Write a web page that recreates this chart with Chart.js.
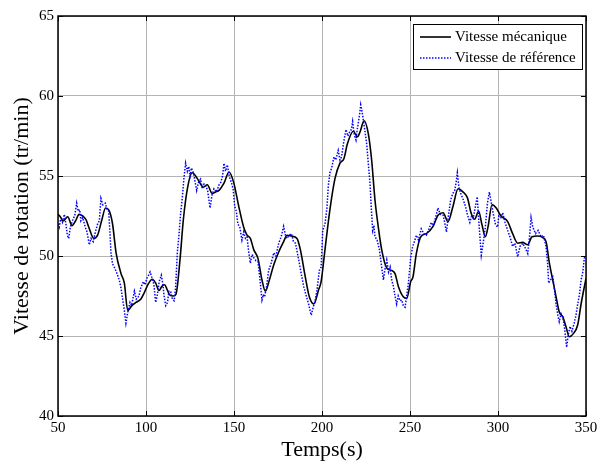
<!DOCTYPE html>
<html lang="fr">
<head>
    <meta charset="UTF-8">
    <title>Vitesse de rotation</title>
    <script src="https://cdn.jsdelivr.net/npm/chart.js"></script>
    <style>
        html, body {
            margin: 0;
            background: #fff;
        }

        .chart-box {
            width: 609px;
            height: 463px;
            position: relative;
        }
    </style>
</head>
<body>
    <div class="chart-box">
        <canvas id="speedChart"></canvas>
    </div>

    <script>
        // axis ticks
        const timeTicks = [50, 100, 150, 200, 250, 300, 350];
        const speedTicks = [40, 45, 50, 55, 60, 65];

        // Vitesse mécanique
        const timeMec = [50, 51, 53, 55.5, 58, 60, 62, 64, 66, 67.5, 70.3, 72.5, 75, 77, 79, 81, 83, 85.8, 87.7, 89.6,
            92, 94.3, 97, 99, 101, 103.6, 105.5, 107.4, 109, 110.6, 112, 113.6, 115.5, 117, 119.3, 121.2, 123.5, 126.3, 129.1, 131,
            132.6, 134.8, 137.7, 139.5, 141.5, 144.3, 147.2, 149.8, 152.7, 155.5, 157.4, 159.3, 161.2, 163.6, 165.9, 167.8, 170.1, 172.6, 175.4, 178.2,
            180.1, 182.6, 185.8, 187.7, 190.5, 192.8, 195.3, 198.1, 199.5, 201.7, 204.5, 207.4, 210.2, 212.5, 214.4, 217.8, 220.1, 221.6, 223.9, 226.3,
            228.2, 230.1, 232, 233.9, 236.8, 239.6, 241.5, 243.4, 246.2, 248.1, 250.4, 251.7, 253.6, 256.1, 259.3, 263.1, 265.9, 268.8, 271.6, 274.4,
            277.3, 280.1, 282.6, 284.8, 286.7, 289, 290.9, 292.8, 294.3, 296.6, 299, 301.7, 305.5, 308.3, 311.2, 314, 316.9, 319.3, 322.6, 325.4,
            327.3, 329.2, 331.1, 333, 334.8, 336.8, 338.6, 340.5, 342.8, 345.3, 347.2, 350];
        const speedMec = [52.6, 52.5, 52.2, 52.45, 51.9, 52.2, 52.6, 52.5, 52.25, 51.8, 51.1, 51.3, 52.3, 53.0, 52.85, 52.0, 50.2, 48.9, 48.3, 46.6,
            46.9, 47.1, 47.3, 47.7, 48.2, 48.55, 48.3, 47.85, 48.1, 48.2, 47.9, 47.55, 47.5, 47.6, 49.75, 52.25, 54.2, 55.2, 54.85, 54.5,
            54.3, 54.45, 53.9, 54.0, 54.1, 54.55, 55.25, 54.6, 53.1, 51.8, 51.3, 51.1, 50.4, 49.85, 48.5, 47.8, 48.5, 49.45, 50.25, 50.9,
            51.3, 51.25, 51.1, 50.4, 48.7, 47.45, 47.0, 47.9, 48.4, 50.4, 52.9, 54.85, 55.8, 56.1, 57.0, 57.8, 57.45, 57.75, 58.45, 57.65,
            56.0, 53.5, 51.8, 50.4, 49.25, 49.1, 48.9, 48.1, 47.45, 47.35, 48.4, 48.7, 50.15, 51.2, 51.4, 51.85, 52.55, 52.7, 52.15, 53.1,
            54.2, 54.0, 53.65, 52.65, 52.3, 52.8, 51.95, 51.2, 51.8, 53.2, 53.0, 52.5, 52.15, 51.4, 50.8, 50.85, 50.7, 51.2, 51.25, 51.15,
            50.9, 49.55, 48.5, 47.45, 46.5, 46.2, 45.6, 44.95, 45.15, 45.7, 47.0, 48.6];

        // Vitesse de référence
        const timeRef = [50, 50.7, 51.5, 52.5, 53.6, 54.5, 55.3, 56.1, 57, 58.5, 59.5, 60.6, 61.5, 62.3, 63, 64, 65.5, 66.5, 67.8, 68.8,
            70, 71, 72.5, 73.5, 74.4, 75.5, 76.9, 77.8, 78.8, 79.5, 80.1, 81, 82, 83.2, 84.8, 85.8, 86.8, 87.7, 88.6, 89.5,
            90.9, 91.8, 93.4, 94.5, 96, 97, 98.5, 99.5, 100.5, 102.3, 103.5, 104.5, 105.5, 106.5, 107.5, 108.7, 109.5, 110.3, 111.2, 112.2,
            113, 114, 115, 116, 116.8, 117.8, 118.8, 119.7, 120.6, 121.5, 122.5, 123.5, 124.3, 125, 125.8, 126.9, 127.8, 128.8, 129.8, 131,
            132, 133, 133.9, 135, 136.4, 137.5, 138.6, 140, 141.5, 142.5, 143.5, 144.3, 145.2, 146.2, 147.3, 148.5, 149.5, 150.4, 151.3, 152.2,
            153.3, 154.5, 155.5, 156.5, 157.4, 158.3, 159.3, 160.3, 161.2, 162.5, 163.6, 164.7, 165.9, 166.7, 167.4, 168.5, 169.7, 171, 172.6, 173.8,
            175.4, 176.8, 178.2, 179.2, 180.1, 181.3, 182.6, 183.8, 184.9, 186, 186.8, 188.2, 189.6, 190.8, 192.4, 193.2, 193.9, 195, 196.2, 197.3,
            198.5, 199.5, 200.4, 201.7, 202.8, 203.6, 204.5, 205.5, 206.8, 207.8, 209.2, 210.2, 211.1, 212.3, 213.6, 214.7, 215.9, 216.7, 217.4, 218.3,
            219.3, 220, 220.6, 221.3, 222, 222.8, 223.5, 224.4, 225.4, 226.3, 227.3, 228, 228.8, 229.5, 230.1, 231.3, 232.6, 233.8, 234.9, 235.8,
            236.8, 237.8, 238.7, 239.6, 240.6, 241.5, 242.4, 243.3, 244.3, 245.3, 246.2, 247.2, 248.1, 249.1, 250.4, 251.5, 252.5, 253.6, 254.8, 256.4,
            257.8, 259.3, 260.5, 262.1, 263.3, 264.5, 265.9, 267.2, 268.8, 269.7, 270.7, 271.8, 273.1, 274.3, 275.4, 276.2, 276.9, 277.8, 278.8, 280,
            281.5, 282.6, 284, 285, 285.9, 287, 288.2, 289.2, 290.5, 291.7, 292.8, 294, 295.1, 296.1, 297.2, 298.5, 299.7, 300.5, 301.6, 302.7,
            304, 305.5, 306.8, 308.3, 309.6, 311.2, 312.5, 314, 315.5, 316.9, 317.9, 318.8, 319.8, 321.3, 322.8, 324.4, 325.8, 327.3, 328.2, 328.8,
            329.8, 331.1, 332.2, 333, 334, 334.8, 335.8, 336.8, 337.8, 338.5, 339, 339.8, 340.9, 342, 343.3, 344.3, 345.3, 346.3, 347.2, 348.2,
            349, 350];
        const speedRef = [52.0, 51.8, 52.3, 52.1, 52.6, 52.0, 51.3, 51.1, 51.8, 52.3, 52.5, 53.3, 52.8, 52.9, 52.2, 52.4, 51.8, 51.5, 50.7, 51.1,
            50.9, 51.4, 52.0, 52.2, 53.6, 53.2, 53.3, 52.9, 52.8, 51.5, 50.2, 49.5, 49.3, 49.0, 48.5, 48.0, 47.25, 46.6, 45.8, 46.4,
            47.1, 46.9, 47.8, 47.3, 47.5, 48.0, 48.4, 48.2, 48.6, 49.0, 48.6, 48.2, 47.1, 47.6, 48.4, 48.8, 48.3, 47.5, 46.9, 47.1,
            47.8, 47.8, 47.3, 47.2, 48.0, 50.2, 51.4, 52.7, 53.6, 54.8, 55.8, 55.3, 55.6, 55.0, 55.5, 55.2, 54.7, 54.1, 54.6, 54.8,
            54.2, 54.5, 54.4, 54.1, 53.0, 53.8, 54.2, 54.0, 54.45, 54.6, 55.0, 55.8, 55.3, 55.7, 55.0, 54.6, 54.2, 53.1, 52.8, 52.0,
            51.8, 51.0, 51.5, 51.1, 51.2, 50.3, 49.55, 50.1, 49.9, 49.7, 49.65, 48.6, 47.25, 47.6, 47.45, 48.1, 49.1, 49.5, 50.2, 50.0,
            50.8, 51.2, 51.85, 51.3, 51.1, 51.3, 51.4, 50.9, 50.8, 50.2, 49.75, 48.9, 48.1, 47.6, 47.0, 46.6, 46.3, 46.8, 47.25, 48.0,
            49.1, 49.3, 51.6, 52.0, 53.0, 54.4, 55.2, 55.5, 56.2, 56.0, 56.6, 56.0, 56.2, 57.1, 57.9, 57.5, 57.8, 57.9, 58.4, 57.6,
            57.25, 57.9, 58.3, 58.8, 59.45, 59.0, 58.5, 57.8, 57.0, 55.8, 54.5, 53.0, 51.6, 51.9, 51.2, 51.0, 50.4, 49.4, 48.5, 49.2,
            49.75, 49.0, 49.3, 48.5, 48.1, 47.5, 47.0, 47.5, 47.2, 47.25, 46.9, 46.8, 47.5, 48.3, 49.9, 50.6, 50.9, 51.3, 51.0, 51.7,
            51.4, 51.3, 51.6, 52.1, 51.9, 52.4, 53.0, 52.6, 52.55, 52.1, 51.5, 52.5, 53.5, 53.9, 54.1, 54.6, 55.2, 54.3, 53.9, 53.6,
            53.1, 52.6, 52.1, 52.5, 52.35, 53.0, 53.7, 52.0, 50.05, 50.9, 51.8, 53.3, 54.0, 53.4, 52.7, 52.0, 51.8, 52.5, 52.4, 52.7,
            52.1, 51.6, 51.2, 50.6, 50.8, 49.95, 50.6, 50.8, 50.5, 50.15, 51.2, 52.4, 51.8, 51.4, 51.6, 51.2, 51.3, 50.6, 49.5, 48.3,
            48.5, 48.7, 47.8, 47.0, 46.3, 45.9, 46.4, 46.2, 45.5, 44.8, 44.3, 45.0, 45.6, 45.3, 45.8, 46.3, 47.0, 47.6, 48.5, 49.0,
            49.85, 50.0];

        const serif = 'Liberation Serif';

        // box round the plot, inward tick marks and the legend
        const framePlugin = {
            id: 'frame',
            afterDraw(chart) {
                const ctx = chart.ctx;
                const a = chart.chartArea;
                const xs = chart.scales.x, ys = chart.scales.y;
                ctx.save();
                ctx.strokeStyle = '#000';
                ctx.lineWidth = 1;
                timeTicks.forEach(t => {
                    const px = Math.round(xs.getPixelForValue(t)) + 0.5;
                    ctx.beginPath();
                    ctx.moveTo(px, a.bottom); ctx.lineTo(px, a.bottom - 5);
                    ctx.moveTo(px, a.top); ctx.lineTo(px, a.top + 5);
                    ctx.stroke();
                });
                speedTicks.forEach(v => {
                    const py = Math.round(ys.getPixelForValue(v)) + 0.5;
                    ctx.beginPath();
                    ctx.moveTo(a.left, py); ctx.lineTo(a.left + 5, py);
                    ctx.moveTo(a.right, py); ctx.lineTo(a.right - 5, py);
                    ctx.stroke();
                });
                ctx.lineWidth = 1.5;
                ctx.strokeRect(a.left, a.top, a.right - a.left, a.bottom - a.top);

                // legend
                const lx = 413, ly = 24, lw = 169, lh = 45;
                ctx.fillStyle = '#fff';
                ctx.fillRect(lx, ly, lw, lh);
                ctx.lineWidth = 1;
                ctx.strokeRect(lx + 0.5, ly + 0.5, lw, lh);
                ctx.font = '15px "' + serif + '"';
                ctx.textBaseline = 'middle';
                chart.data.datasets.forEach((ds, i) => {
                    const y = ly + 13 + i * 21;
                    ctx.strokeStyle = ds.borderColor;
                    ctx.lineWidth = ds.borderWidth;
                    ctx.setLineDash(ds.borderDash || []);
                    ctx.beginPath();
                    ctx.moveTo(lx + 7, y); ctx.lineTo(lx + 38, y);
                    ctx.stroke();
                    ctx.setLineDash([]);
                    ctx.fillStyle = '#000';
                    ctx.fillText(ds.label, lx + 42, y);
                });
                ctx.restore();
            }
        };

        const ctx = document.getElementById('speedChart').getContext('2d');
        new Chart(ctx, {
            type: 'line',
            data: {
                datasets: [{
                    label: 'Vitesse mécanique',
                    data: timeMec.map((t, i) => ({ x: t, y: speedMec[i] })),
                    borderColor: '#000000',
                    borderWidth: 1.6,
                    pointRadius: 0,
                    cubicInterpolationMode: 'monotone',
                    order: 1
                }, {
                    label: 'Vitesse de référence',
                    data: timeRef.map((t, i) => ({ x: t, y: speedRef[i] })),
                    borderColor: '#0000ff',
                    borderWidth: 1.5,
                    borderDash: [1.5, 1.5],
                    pointRadius: 0,
                    tension: 0,
                    order: 0
                }]
            },
            options: {
                responsive: true,
                maintainAspectRatio: false,
                animation: false,
                layout: { padding: { top: 16, right: 23, left: 0, bottom: 0 } },
                plugins: {
                    legend: { display: false },
                    tooltip: { enabled: false }
                },
                scales: {
                    x: {
                        type: 'linear',
                        min: 50,
                        max: 350,
                        afterFit: s => { s.height = 47; },
                        afterBuildTicks: s => { s.ticks = timeTicks.map(v => ({ value: v })); },
                        ticks: { color: '#000', padding: 3, font: { family: serif, size: 15 } },
                        grid: { color: '#b4b4b4', lineWidth: 1, drawTicks: false },
                        border: { display: false },
                        title: {
                            display: true,
                            text: 'Temps(s)',
                            color: '#000',
                            font: { family: serif, size: 22 },
                            padding: { top: 0, bottom: 0 }
                        }
                    },
                    y: {
                        min: 40,
                        max: 65,
                        afterFit: s => { s.width = 58; },
                        afterBuildTicks: s => { s.ticks = speedTicks.map(v => ({ value: v })); },
                        ticks: { color: '#000', padding: 4, font: { family: serif, size: 15 } },
                        grid: { color: '#b4b4b4', lineWidth: 1, drawTicks: false },
                        border: { display: false },
                        title: {
                            display: true,
                            text: 'Vitesse de rotation (tr/min)',
                            color: '#000',
                            font: { family: serif, size: 22 },
                            padding: { top: 9, bottom: 0 }
                        }
                    }
                }
            },
            plugins: [framePlugin]
        });
    </script>
</body>
</html>
